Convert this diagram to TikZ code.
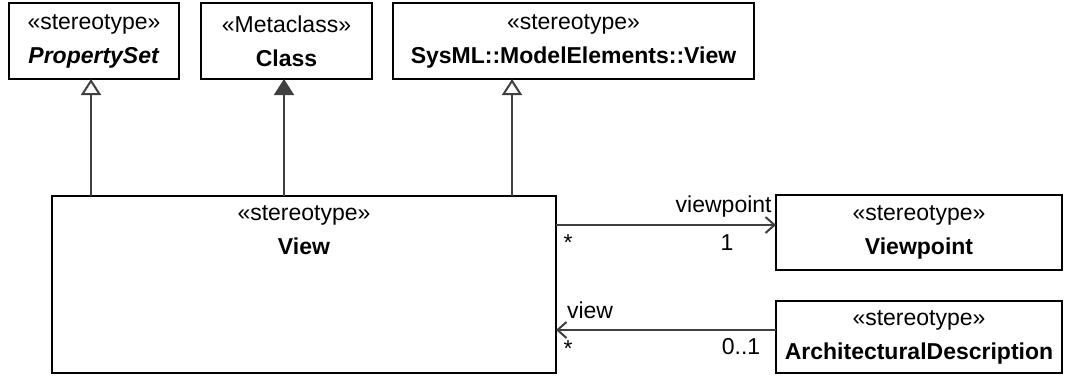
\documentclass[tikz,border=0pt]{standalone}
\usepackage{fontspec}
\setmainfont{Liberation Sans}
\usetikzlibrary{arrows.meta}
\begin{document}
\begin{tikzpicture}[x=0.5pt,y=-0.5pt,
  box/.style={draw=black, line width=1.2pt, fill=white, inner sep=0pt, outer sep=0pt, align=center,
    font=\fontsize{11.5}{17}\selectfont},
  gen/.style={draw=black!75, line width=1pt, -{Triangle[width=10pt,length=8pt,fill=white]}},
  genf/.style={draw=black!75, line width=1pt, -{Triangle[width=10pt,length=8pt,fill=black!75]}},
  assoc/.style={draw=black!75, line width=1pt, -{Straight Barb[width=8pt,length=4.5pt]}},
  lbl/.style={font=\fontsize{11.5}{14}\selectfont, inner sep=0pt}
]
\useasboundingbox (0,0) rectangle (1069,375);

\node[box, minimum width=85pt, minimum height=38pt] (ps) at (94,41)
  {«stereotype»\\ \textbf{\textit{PropertySet}}};
\node[box, minimum width=85.5pt, minimum height=38pt] (cls) at (286.5,41)
  {«Metaclass»\\ \textbf{Class}};
\node[box, minimum width=180.5pt, minimum height=38pt] (sys) at (573.5,41)
  {«stereotype»\\ \textbf{SysML::ModelElements::View}};
\node[box, minimum width=252pt, minimum height=88.5pt] (view) at (304,284.5) {};
\node[box, draw=none, fill=none, anchor=north] (viewt) at ([yshift=-5pt]view.north)
  {«stereotype»\\ \textbf{View}};
\node[box, minimum width=143pt, minimum height=37.5pt] (vp) at (919,232.5)
  {«stereotype»\\ \textbf{Viewpoint}};
\node[box, minimum width=143pt, minimum height=36pt] (ad) at (919,337)
  {«stereotype»\\ \textbf{ArchitecturalDescription}};

\coordinate (g1) at (91,0);
\coordinate (g2) at (284,0);
\coordinate (g3) at (512,0);
\coordinate (h1) at (0,225);
\coordinate (h2) at (0,330);

\draw[gen] (view.north -| g1) -- (ps.south -| g1);
\draw[genf] (view.north -| g2) -- (cls.south -| g2);
\draw[gen] (view.north -| g3) -- (sys.south -| g3);

\draw[assoc] (view.east |- h1) -- (vp.west |- h1);
\draw[assoc] (ad.west |- h2) -- (view.east |- h2);

\node[lbl, anchor=base east] (l1) at (772,212) {viewpoint};
\node[lbl] (l2) at (568,243) {*};
\node[lbl] (l3) at (727,243) {1};
\node[lbl] (l4) at (590,310) {view};
\node[lbl] (l5) at (568,349) {*};
\node[lbl] (l6) at (741,347) {0..1};
\end{tikzpicture}
\end{document}
